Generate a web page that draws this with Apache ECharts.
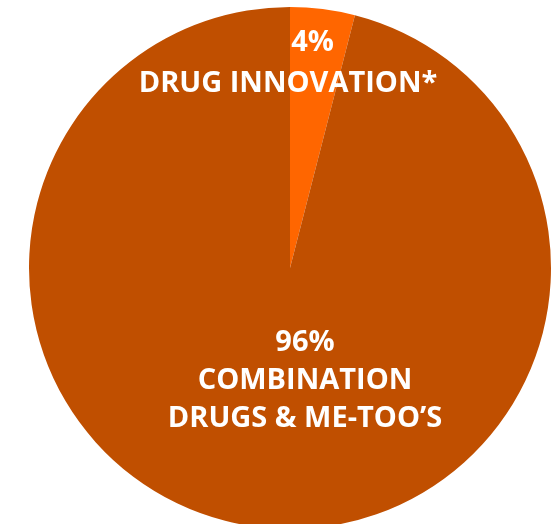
<!DOCTYPE html>
<html>
<head>
<meta charset="utf-8">
<script src="https://cdn.jsdelivr.net/npm/echarts@6/dist/echarts.min.js"></script>
<style>
  html, body { margin: 0; padding: 0; background: #ffffff; }
  #chart { width: 560px; height: 524px; }
</style>
</head>
<body>
<div id="chart"></div>
<script>
// Data
var categories = ['DRUG INNOVATION*', 'COMBINATION\nDRUGS & ME-TOO\u2019S'];
var shares = [4, 96];
var sliceColors = ['#FF6600', '#C04F00'];

var chart = echarts.init(document.getElementById('chart'), null, { renderer: 'canvas' });

var labelPos = [
  { x: 288, y: 63 },
  { x: 305, y: 381 }
];

var option = {
  backgroundColor: '#ffffff',
  animation: false,
  series: [{
    type: 'pie',
    center: [290, 268],
    radius: 261,
    startAngle: 90,
    clockwise: true,
    silent: true,
    avoidLabelOverlap: false,
    data: categories.map(function (c, i) {
      return {
        name: c,
        value: shares[i],
        itemStyle: { color: sliceColors[i] },
        label: i === 0 ? {
          formatter: function (p) { return '{p|' + p.value + '%}\n{n|' + p.name + '}'; },
          rich: {
            p: { fontFamily: 'Open Sans', fontWeight: 'bold', fontSize: 29, color: '#ffffff', lineHeight: 41, padding: [0, 0, 0, 49] },
            n: { fontFamily: 'Open Sans', fontWeight: 'bold', fontSize: 29, color: '#ffffff', lineHeight: 41 }
          }
        } : {
          formatter: function (p) { return p.value + '%\n' + p.name; },
          lineHeight: 38
        }
      };
    }),
    label: {
      show: true,
      position: 'inside',
      color: '#ffffff',
      fontFamily: 'Open Sans',
      fontWeight: 'bold',
      fontSize: 29,
      align: 'center',
      verticalAlign: 'middle'
    },
    labelLine: { show: false },
    labelLayout: function (params) {
      var p = labelPos[params.dataIndex];
      return { x: p.x, y: p.y, align: 'center', verticalAlign: 'middle' };
    },
    itemStyle: { borderWidth: 0 }
  }]
};

chart.setOption(option);
</script>
</body>
</html>
